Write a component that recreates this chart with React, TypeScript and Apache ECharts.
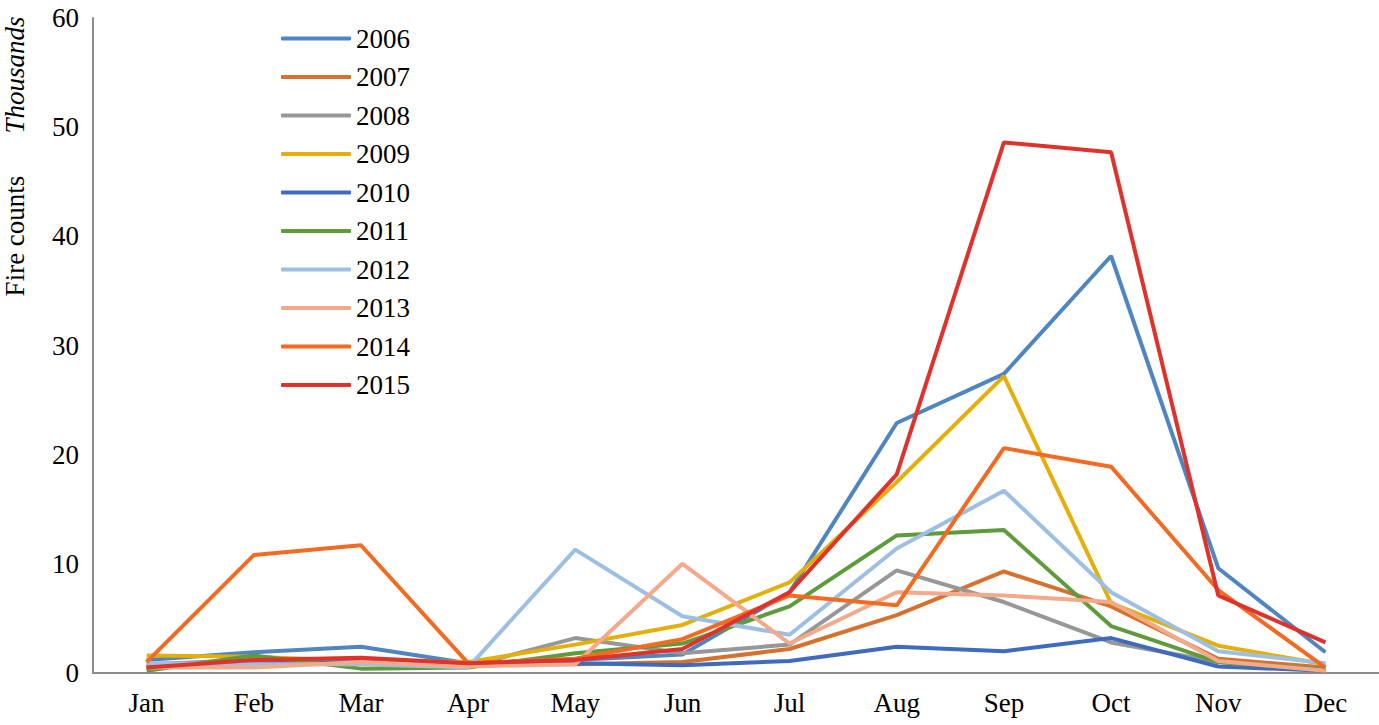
import React, { useEffect, useRef } from "react";
import * as echarts from "echarts";

const months = ["Jan", "Feb", "Mar", "Apr", "May", "Jun", "Jul", "Aug", "Sep", "Oct", "Nov", "Dec"];
const years = ["2006", "2007", "2008", "2009", "2010", "2011", "2012", "2013", "2014", "2015"];
const colors = ["#4F86C1", "#D5722F", "#979797", "#E5AF0A", "#3F6BBE", "#5E9B3B", "#9DBFE4", "#F3A98A", "#F26B20", "#E0322A"];

const v2006 = [1.2, 1.9, 2.4, 0.9, 1.2, 1.7, 7.4, 22.9, 27.4, 38.2, 9.6, 1.9];
const v2007 = [0.5, 1.0, 1.2, 0.8, 0.8, 1.0, 2.2, 5.3, 9.3, 6.1, 1.3, 0.5];
const v2008 = [0.8, 1.2, 1.0, 0.6, 3.2, 1.8, 2.6, 9.4, 6.5, 2.8, 1.0, 0.3];
const v2009 = [1.6, 1.5, 1.1, 1.0, 2.6, 4.4, 8.3, 17.5, 27.2, 6.4, 2.5, 0.8];
const v2010 = [0.5, 0.9, 1.0, 0.8, 0.9, 0.7, 1.1, 2.4, 2.0, 3.2, 0.6, 0.2];
const v2011 = [0.2, 1.6, 0.4, 0.5, 1.8, 2.7, 6.1, 12.6, 13.1, 4.3, 1.0, 0.3];
const v2012 = [0.9, 0.8, 0.8, 0.5, 11.3, 5.2, 3.5, 11.4, 16.7, 7.4, 2.0, 0.9];
const v2013 = [0.5, 0.5, 1.0, 0.6, 0.8, 10.0, 2.7, 7.4, 7.1, 6.5, 1.1, 0.2];
const v2014 = [1.0, 10.8, 11.7, 0.9, 1.3, 3.1, 7.1, 6.2, 20.6, 18.9, 7.6, 0.5];
const v2015 = [0.5, 1.2, 1.4, 0.9, 1.2, 2.2, 7.4, 18.2, 48.6, 47.7, 7.1, 2.8];
const seriesValues = [v2006, v2007, v2008, v2009, v2010, v2011, v2012, v2013, v2014, v2015];

const yTicks = [0, 10, 20, 30, 40, 50, 60];

export default function App() {
  const ref = useRef<HTMLDivElement>(null);
  useEffect(() => {
    if (!ref.current) return;
    const chart = echarts.init(ref.current, null, { renderer: "svg" });
    const font = "'Liberation Serif', 'Times New Roman', serif";
    chart.setOption({
      animation: false,
      backgroundColor: "#ffffff",
      textStyle: { fontFamily: font },
      grid: { left: 93, right: 0, top: 18, bottom: 52, containLabel: false },
      legend: {
        orient: "vertical",
        left: 276,
        top: 20,
        itemWidth: 70,
        itemHeight: 4,
        itemGap: 11.5,
        icon: "roundRect",
        textStyle: { fontFamily: font, fontSize: 27, color: "#000", lineHeight: 27 },
        data: years,
      },
      xAxis: {
        type: "category",
        data: months,
        boundaryGap: true,
        axisLine: { show: true, lineStyle: { color: "#8C8C8C", width: 2 } },
        axisTick: { show: false },
        axisLabel: { color: "#000", fontSize: 27, fontFamily: font, margin: 16 },
        splitLine: { show: false },
      },
      yAxis: {
        type: "value",
        min: 0,
        max: 60,
        interval: 10,
        axisLine: { show: true, lineStyle: { color: "#8C8C8C", width: 2 } },
        axisTick: { show: false },
        axisLabel: {
          color: "#000",
          fontSize: 27,
          fontFamily: font,
          margin: 14,
          formatter: (v: number) => (yTicks.includes(v) ? String(v) : ""),
        },
        splitLine: { show: false },
      },
      graphic: [
        {
          type: "text",
          x: 15,
          y: 236,
          rotation: Math.PI / 2,
          style: { text: "Fire counts", fontSize: 27, fontFamily: font, fill: "#000", textAlign: "center", textVerticalAlign: "middle" },
        },
        {
          type: "text",
          x: 15,
          y: 75,
          rotation: Math.PI / 2,
          style: { text: "Thousands", fontSize: 27, fontStyle: "italic", fontFamily: font, fill: "#000", textAlign: "center", textVerticalAlign: "middle" },
        },
      ],
      series: years.map((y, i) => ({
        name: y,
        type: "line",
        data: seriesValues[i],
        symbol: "none",
        color: colors[i],
        lineStyle: { width: 4, color: colors[i] },
        z: 2 + i,
      })),
    });
    return () => chart.dispose();
  }, []);
  return <div ref={ref} style={{ position: "absolute", left: 0, top: 0, width: 1379, height: 725 }} />;
}
